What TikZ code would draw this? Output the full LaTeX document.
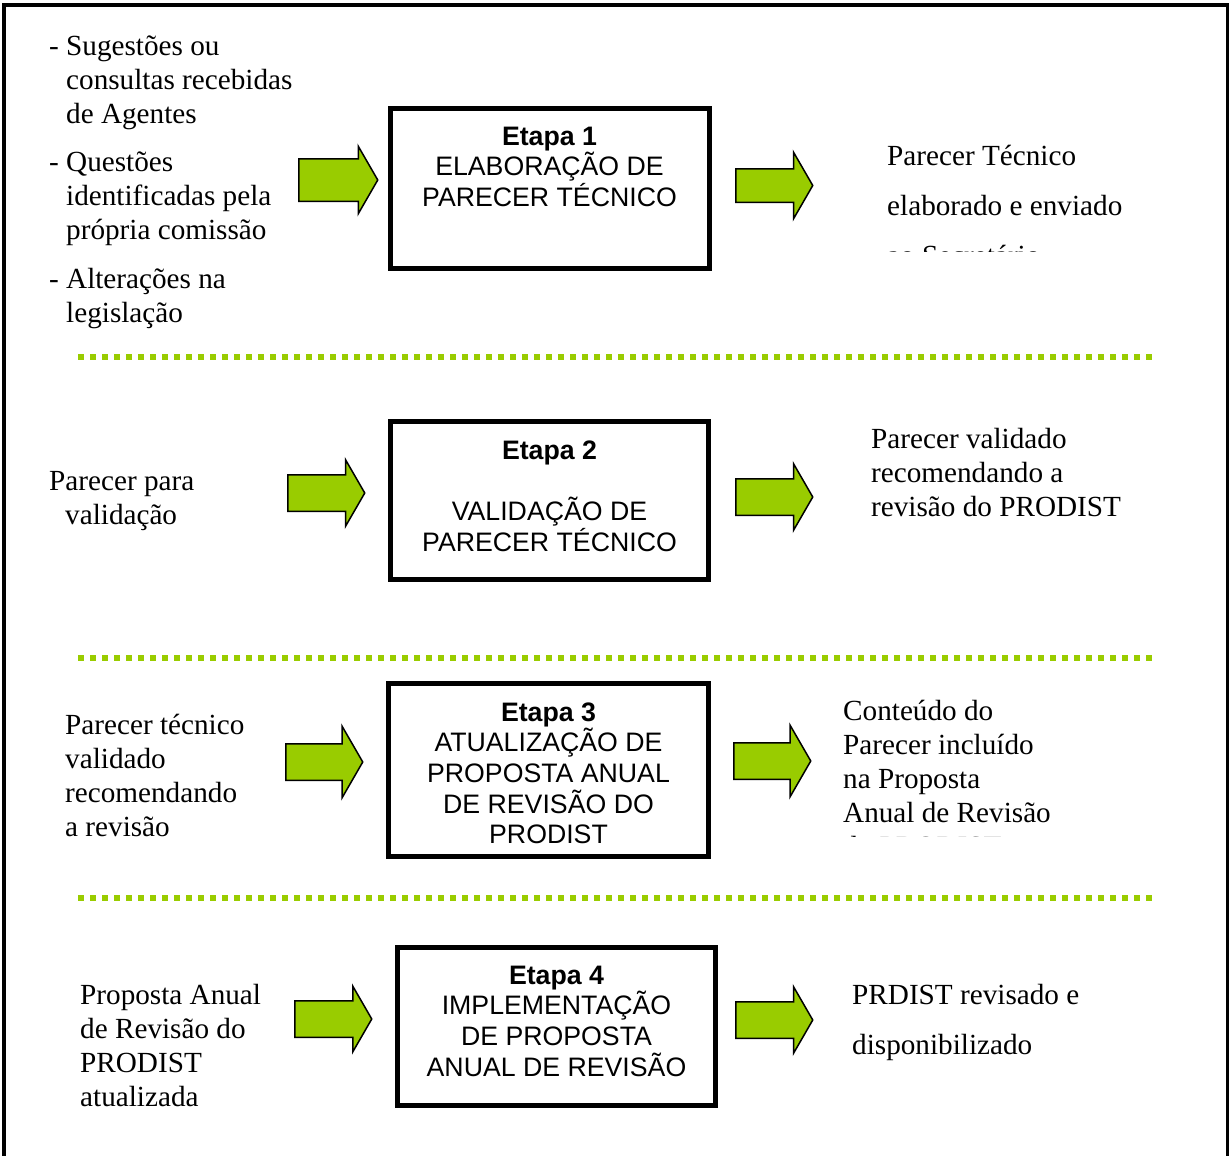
\documentclass[tikz,border=0pt]{standalone}
\usepackage{fontspec}
\setmainfont{Liberation Serif}
\newfontfamily\arialfont{Liberation Sans}
\usepackage{tikz}
\usetikzlibrary{shapes.arrows}
\definecolor{arrowgreen}{HTML}{99CC00}

\begin{document}
\begin{tikzpicture}[x=1pt,y=-1pt,
		txt/.style={inner sep=0pt, align=left, anchor=base west, font=\fontsize{29.2}{34}\selectfont},
		wide/.style={font=\fontsize{29.2}{50}\selectfont},
		stagebox/.style={draw, line width=5pt, inner sep=0pt, align=center, anchor=base, minimum width=319pt, font=\arialfont\fontsize{26.7}{30.7}\selectfont},
		blockarrow/.style={single arrow, draw=black, line width=1.5pt, fill=arrowgreen, inner xsep=0pt, inner ysep=17.5pt, single arrow head extend=15pt, single arrow tip angle=120, minimum height=77pt, anchor=tail},
		sep/.style={arrowgreen, line width=6pt, dash pattern=on 6pt off 6pt}]
		\useasboundingbox (0,0) rectangle (1229,1156);
		\draw[line width=4.5pt] (4,1160) -- (4,5) -- (1228,5) -- (1228,1160);
		\node[txt] (src1a) at (66,123) {\llap{- }Sugestões ou\\consultas recebidas\\de Agentes};
		\node[txt] (src1b) at (66,239) {\llap{- }Questões\\identificadas pela\\própria comissão};
		\node[txt] (src1c) at (66,322) {\llap{- }Alterações na\\legislação};
		\node[blockarrow, inner ysep=20.5pt, single arrow head extend=12.5pt, minimum height=79pt] (in1) at (298,180) {};
		\node[stagebox, text height=98.4pt, text depth=61.6pt] (etapa1) at (549.5,206.4) {\textbf{Etapa 1}\\ELABORAÇÃO DE\\PARECER TÉCNICO};
		\node[blockarrow, inner ysep=16pt, single arrow head extend=16.5pt] (out1) at (735,185.5) {};
		\begin{scope}
			\clip (860,100) rectangle (1200,251.5);
			\node[txt, wide] (res1) at (887,265) {Parecer Técnico\\elaborado e enviado\\ao Secretário};
		\end{scope}
		\draw[sep] (78,357) -- (1152,357);
		\node[txt] (src2) at (65,524) {\hspace*{-16pt}Parecer para\\validação};
		\node[blockarrow] (in2) at (287,493) {};
		\node[stagebox, minimum width=318pt, text height=129.6pt, text depth=28.4pt] (etapa2) at (549.5,551.1) {\textbf{Etapa 2}\\[30.7pt]VALIDAÇÃO DE\\PARECER TÉCNICO};
		\node[blockarrow] (out2) at (735,497) {};
		\node[txt] (res2) at (871,516) {Parecer validado\\recomendando a\\revisão do PRODIST};
		\draw[sep] (78,658) -- (1152,658);
		\node[txt] (src3) at (65,836) {Parecer técnico\\validado\\recomendando\\a revisão};
		\node[blockarrow, single arrow head extend=17.5pt] (in3) at (285,762) {};
		\node[stagebox, minimum width=320pt, text height=160.3pt, text depth=12.7pt] (etapa3) at (548.5,843.8) {\textbf{Etapa 3}\\ATUALIZAÇÃO DE\\PROPOSTA ANUAL\\DE REVISÃO DO\\PRODIST};
		\node[blockarrow, single arrow head extend=17.5pt] (out3) at (733,761) {};
		\begin{scope}
			\clip (830,680) rectangle (1200,836);
			\node[txt] (res3) at (843,856) {Conteúdo do\\Parecer incluído\\na Proposta\\Anual de Revisão\\do PRODIST};
		\end{scope}
		\draw[sep] (78,898) -- (1152,898);
		\node[txt] (src4) at (80,1106) {Proposta Anual\\de Revisão do\\PRODIST\\atualizada};
		\node[blockarrow, single arrow head extend=14.5pt] (in4) at (294,1019) {};
		\node[stagebox, minimum width=318pt, text height=128.6pt, text depth=29.4pt] (etapa4) at (556.5,1076.1) {\textbf{Etapa 4}\\IMPLEMENTAÇÃO\\DE PROPOSTA\\ANUAL DE REVISÃO};
		\node[blockarrow] (out4) at (735,1020) {};
		\node[txt, wide] (res4) at (852,1054) {PRDIST revisado e\\disponibilizado};
\end{tikzpicture}
\end{document}
